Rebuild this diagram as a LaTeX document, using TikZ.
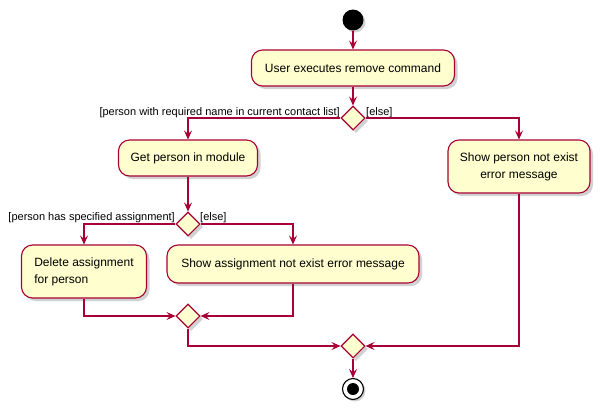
\documentclass[tikz,border=0pt]{standalone}
\usepackage{fontspec}
\setmainfont{Liberation Sans}
\usetikzlibrary{shapes.geometric,arrows.meta,shadows}
\definecolor{pborder}{HTML}{A80036}
\definecolor{pfill}{HTML}{FEFECE}
\tikzset{
  act/.style={draw=pborder, fill=pfill, line width=1.1pt, rounded corners=11pt,
    inner sep=0pt, font=\fontsize{12}{17}\selectfont,
    drop shadow={shadow xshift=3pt, shadow yshift=-3pt, opacity=0.3, fill=black!60}},
  dia/.style={diamond, draw=pborder, fill=pfill, line width=1.1pt, minimum width=24pt,
    minimum height=24pt, inner sep=0pt,
    drop shadow={shadow xshift=3pt, shadow yshift=-3pt, opacity=0.3, fill=black!60}},
  arr/.style={draw=pborder, line width=1.1pt, -{Stealth[length=9pt,width=8pt,inset=3.5pt]}},
  guard/.style={inner sep=0pt, font=\fontsize{11}{13}\selectfont},
}
\begin{document}
\begin{tikzpicture}[x=1pt,y=-1pt]
\useasboundingbox (0,0) rectangle (606,416);
\node[circle, fill=black, minimum size=21pt, inner sep=0pt,
  drop shadow={shadow xshift=2pt, shadow yshift=-2pt, opacity=0.3, fill=black!60}] (start) at (353,20) {};
\node[act, minimum width=203pt, minimum height=36pt] (b1) at (353,68) {User executes remove command};
\node[dia] (d1) at (353,118) {};
\node[guard, anchor=base east] (g1) at (340,115) {[person with required name in current contact list]};
\node[guard, anchor=base west] (g2) at (366,115) {[else]};
\node[act, minimum width=139pt, minimum height=36pt] (b2) at (188,158) {Get person in module};
\node[act, minimum width=142pt, minimum height=53pt, align=center] (b3) at (519,166.5) {Show person not exist\\error message};
\node[dia] (d2) at (188,224) {};
\node[guard, anchor=base east] (g3) at (175,220) {[person has specified assignment]};
\node[guard, anchor=base west] (g4) at (200,220) {[else]};
\node[act, minimum width=125pt, minimum height=53pt, align=left] (b4) at (84,271.5) {Delete assignment\\for person};
\node[act, minimum width=252pt, minimum height=38pt] (b5) at (293,264) {Show assignment not exist error message};
\node[dia] (d3) at (188,316) {};
\node[dia] (d4) at (353,346) {};
\node[circle, draw=black, fill=white, line width=1.1pt, minimum size=21pt, inner sep=0pt,
  drop shadow={shadow xshift=2pt, shadow yshift=-2pt, opacity=0.3, fill=black!60}] (end) at (353,389) {};
\node[circle, fill=black, minimum size=12pt, inner sep=0pt] (endin) at (end.center) {};
\draw[arr] (start) -- (b1);
\draw[arr] (b1) -- (d1);
\draw[arr] (d1.west) -| (b2.north);
\draw[arr] (d1.east) -| (b3.north);
\draw[arr] (b2) -- (d2);
\draw[arr] (d2.west) -| (b4.north);
\draw[arr] (d2.east) -| (b5.north);
\draw[arr] (b4.south) |- (d3.west);
\draw[arr] (b5.south) |- (d3.east);
\draw[arr] (d3.south) |- (d4.west);
\draw[arr] (b3.south) |- (d4.east);
\draw[arr] (d4) -- (end);
\end{tikzpicture}
\end{document}
